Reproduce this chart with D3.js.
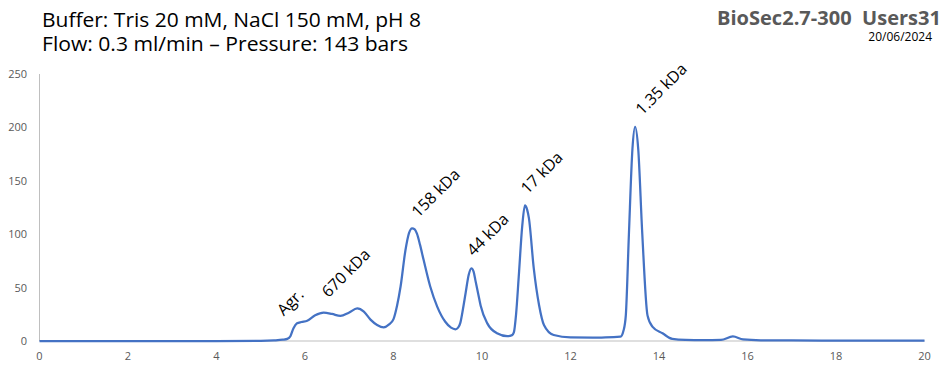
<!DOCTYPE html>
<html>
<head>
<meta charset="utf-8">
<script src="https://cdn.jsdelivr.net/npm/d3@7"></script>
<style>
  html, body { margin: 0; padding: 0; background: #fff; }
  svg { display: block; font-family: "Open Sans", Lato, sans-serif; }
  .tick-label { fill: #595959; font-size: 11px; }
</style>
</head>
<body>
<div id="chart"></div>
<script>
// Chromatogram (UV signal vs elution volume)
const rt = [0, 2, 4, 5.0, 5.3, 5.5, 5.6, 5.67, 5.74, 5.82, 5.92, 6.05, 6.23, 6.42, 6.61, 6.80, 6.99, 7.18, 7.33, 7.48,
  7.63, 7.78, 7.90, 8.0, 8.08, 8.16, 8.27, 8.35, 8.42, 8.48, 8.53, 8.60, 8.68, 8.83, 8.99, 9.17, 9.30, 9.40, 9.46, 9.51,
  9.57, 9.63, 9.70, 9.76, 9.81, 9.85, 9.91, 9.97, 10.12, 10.34, 10.57, 10.68, 10.72, 10.77, 10.83, 10.91, 10.97, 11.02,
  11.06, 11.17, 11.29, 11.40, 11.62, 12.0, 12.5, 12.79, 13.13, 13.20, 13.25, 13.32, 13.40, 13.46, 13.53, 13.62, 13.74,
  13.85, 14.08, 14.30, 14.6, 15.0, 15.4, 15.67, 15.9, 16.3, 17, 18, 19, 20];
const signal = [0, 0, 0, 0.1, 0.5, 1.2, 2, 4.5, 12, 16.6, 17.8, 19, 24, 26.5, 25.3, 23.5, 26.5, 30.5, 27.5, 20,
  15, 12.8, 15.5, 20.5, 33, 51, 85, 101, 105.5, 104.5, 100.5, 90, 76, 51, 32, 18, 12.5, 11, 12.5, 17,
  30, 45, 62, 68, 65, 57, 45, 33, 16.5, 7.2, 4.5, 5.5, 8, 25, 60, 108, 127, 123,
  115, 68, 33.5, 15, 5.6, 3.3, 3.2, 3.3, 4, 10, 24, 100, 180, 200.5, 180, 102, 24,
  13.5, 7.2, 2, 1.0, 0.8, 1.0, 4.3, 1.5, 0.7, 0.5, 0.4, 0.3, 0.3];

// Peak annotations: text and where the rotated label starts (data units)
const peakNames = ["Agr.", "670 kDa", "158 kDa", "44 kDa", "17 kDa", "1.35 kDa"];
const labelRt = [5.52, 6.53, 8.56, 9.81, 11.03, 13.62];
const labelVal = [23, 40, 115, 79, 137, 211];

const xTicks = [0, 2, 4, 6, 8, 10, 12, 14, 16, 18, 20];
const yTicks = [0, 50, 100, 150, 200, 250];

const titleLines = ["Buffer: Tris 20 mM, NaCl 150 mM, pH 8", "Flow: 0.3 ml/min \u2013 Pressure: 143 bars"];
const columnName = "BioSec2.7-300  Users31";
const runDate = "20/06/2024";

function drawChart() {
  const width = 947;
  const height = 373;

  const svg = d3.select("#chart")
    .append("svg")
    .attr("width", width)
    .attr("height", height);

  const x = d3.scaleLinear().domain([0, 20]).range([39.5, 924.5]);
  const y = d3.scaleLinear().domain([0, 250]).range([341, 74]);

  // Axes lines (no tick marks, Excel style)
  svg.append("line")
    .attr("x1", x(0)).attr("x2", x(0))
    .attr("y1", y(250)).attr("y2", y(0))
    .attr("stroke", "#bfbfbf").attr("stroke-width", 1);
  svg.append("line")
    .attr("x1", x(0)).attr("x2", x(20))
    .attr("y1", y(0)).attr("y2", y(0))
    .attr("stroke", "#bfbfbf").attr("stroke-width", 1);

  svg.append("g")
    .selectAll("text")
    .data(yTicks)
    .join("text")
    .attr("class", "tick-label")
    .attr("x", 27)
    .attr("y", (d) => y(d) + 4)
    .attr("text-anchor", "end")
    .text((d) => d);

  svg.append("g")
    .selectAll("text")
    .data(xTicks)
    .join("text")
    .attr("class", "tick-label")
    .attr("x", (d) => x(d))
    .attr("y", 360)
    .attr("text-anchor", "middle")
    .text((d) => d);

  // Trace
  const pts = rt.map((d, i) => [d, signal[i]]);
  const line = d3.line()
    .x((d) => x(d[0]))
    .y((d) => y(d[1]))
    .curve(d3.curveMonotoneX);

  svg.append("path")
    .datum(pts)
    .attr("d", line)
    .attr("fill", "none")
    .attr("stroke", "#4472c4")
    .attr("stroke-width", 2.25)
    .attr("stroke-linejoin", "round");

  // Peak labels, rotated 45 degrees
  svg.append("g")
    .selectAll("text")
    .data(peakNames)
    .join("text")
    .attr("transform", (d, i) => `translate(${x(labelRt[i])},${y(labelVal[i])}) rotate(-45)`)
    .attr("font-size", 16)
    .attr("fill", "#000")
    .text((d) => d);

  // Header
  const titleWidths = [379, 366];
  svg.append("g")
    .selectAll("text")
    .data(titleLines)
    .join("text")
    .attr("x", 42)
    .attr("y", (d, i) => 27 + i * 24)
    .attr("font-size", 20)
    .attr("fill", "#000")
    .attr("textLength", (d, i) => titleWidths[i])
    .attr("lengthAdjust", "spacingAndGlyphs")
    .text((d) => d);

  svg.append("text")
    .attr("x", 941)
    .attr("y", 25)
    .attr("text-anchor", "end")
    .attr("font-size", 20)
    .attr("font-weight", "bold")
    .attr("fill", "#595959")
    .attr("textLength", 224)
    .attr("lengthAdjust", "spacingAndGlyphs")
    .style("white-space", "pre")
    .text(columnName);

  svg.append("text")
    .attr("x", 932)
    .attr("y", 41)
    .attr("text-anchor", "end")
    .attr("font-size", 12)
    .attr("fill", "#000")
    .text(runDate);
}

if (document.readyState === "loading") {
  document.addEventListener("DOMContentLoaded", drawChart);
} else {
  drawChart();
}
</script>
</body>
</html>
